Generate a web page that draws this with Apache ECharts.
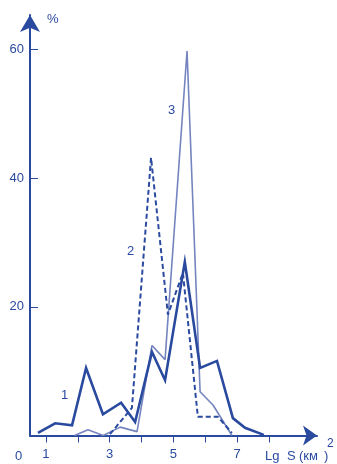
<!DOCTYPE html>
<html>
<head>
<meta charset="utf-8">
<script src="https://cdn.jsdelivr.net/npm/echarts@6/dist/echarts.min.js"></script>
<style>
  html, body { margin: 0; padding: 0; background: #fff; }
  #chart { width: 337px; height: 464px; }
</style>
</head>
<body>
<div id="chart"></div>
<script>
// Frequency distributions (%) over Lg S (km²), three samples.
const series1X = [0.75, 1.29, 1.82, 2.26, 2.79, 3.36, 3.80, 4.33, 4.74, 5.36, 5.84, 6.37, 6.87, 7.25, 7.84];
const series1Y = [0.4, 1.9, 1.6, 10.5, 3.3, 5.1, 2.1, 13.0, 8.6, 27.0, 10.5, 11.6, 2.7, 1.2, 0.1];

const series2X = [3.01, 3.70, 4.30, 4.83, 5.30, 5.77, 6.40, 6.84];
const series2Y = [0.2, 4.3, 43.2, 18.8, 25.3, 2.9, 2.9, 0.4];

const series3X = [1.90, 2.32, 2.80, 3.33, 3.86, 4.33, 4.74, 5.43, 5.84, 6.25, 6.84];
const series3Y = [0.0, 0.9, 0.0, 1.3, 0.6, 14.0, 11.8, 59.8, 6.8, 4.7, 0.0];

const xTicks = [1, 2, 3, 4, 5, 6, 7, 8];
const xTickLabels = [1, 3, 5, 7];
const yTicks = [20, 40, 60];
const seriesNames = ['1', '2', '3'];

const ink = '#2a4a9f';
const font = 'Liberation Sans';

const pairs = (xs, ys) => xs.map((x, i) => [x, ys[i]]);

// small helper for free-standing text pieces
const txt = (text, left, top, size) => ({
  type: 'text', left, top,
  style: { text, fill: ink, font: (size || 13) + 'px ' + font }
});

const chart = echarts.init(document.getElementById('chart'), null, { renderer: 'canvas' });

chart.setOption({
  animation: false,
  backgroundColor: '#fff',
  grid: { left: 30, right: 20, top: 15, bottom: 28.5, containLabel: false },
  xAxis: {
    type: 'value',
    min: 0.5,
    max: 9.51,
    axisLine: {
      show: true,
      lineStyle: { color: ink, width: 2 },
      symbol: ['none', 'arrow'],
      symbolSize: [15, 14]
    },
    axisTick: {
      show: true,
      customValues: xTicks,
      length: 7,
      lineStyle: { color: ink, width: 1 }
    },
    axisLabel: {
      show: true,
      customValues: xTickLabels,
      margin: 12,
      color: ink,
      fontFamily: font,
      fontSize: 13
    },
    splitLine: { show: false }
  },
  yAxis: {
    type: 'value',
    min: 0,
    max: 65.4,
    axisLine: {
      show: true,
      lineStyle: { color: ink, width: 2 },
      symbol: ['none', 'arrow'],
      symbolSize: [15, 17]
    },
    axisTick: {
      show: true,
      inside: true,
      customValues: yTicks,
      length: 8,
      lineStyle: { color: ink, width: 1 }
    },
    axisLabel: {
      show: true,
      customValues: yTicks,
      margin: 6,
      color: ink,
      fontFamily: font,
      fontSize: 13
    },
    splitLine: { show: false }
  },
  series: [
    {
      name: seriesNames[0],
      type: 'line',
      data: pairs(series1X, series1Y),
      symbol: 'none',
      lineStyle: { color: ink, width: 2.6, join: 'miter' },
      z: 3
    },
    {
      name: seriesNames[1],
      type: 'line',
      data: pairs(series2X, series2Y),
      symbol: 'none',
      lineStyle: { color: ink, width: 2, type: [5, 3] },
      z: 2
    },
    {
      name: seriesNames[2],
      type: 'line',
      data: pairs(series3X, series3Y),
      symbol: 'none',
      lineStyle: { color: '#7484bf', width: 1.6 },
      z: 1
    }
  ],
  graphic: [
    txt('%', 47, 13),
    txt('0', 15, 450),
    // x-axis title, spread out: Lg S (км²)
    txt('Lg', 265, 450),
    txt('S', 287, 450),
    txt('(км', 299, 450),
    txt(')', 324, 450),
    txt('2', 327, 438, 12),
    // series labels
    txt(seriesNames[0], 61, 389),
    txt(seriesNames[1], 127, 245),
    txt(seriesNames[2], 168, 104)
  ]
});
</script>
</body>
</html>
